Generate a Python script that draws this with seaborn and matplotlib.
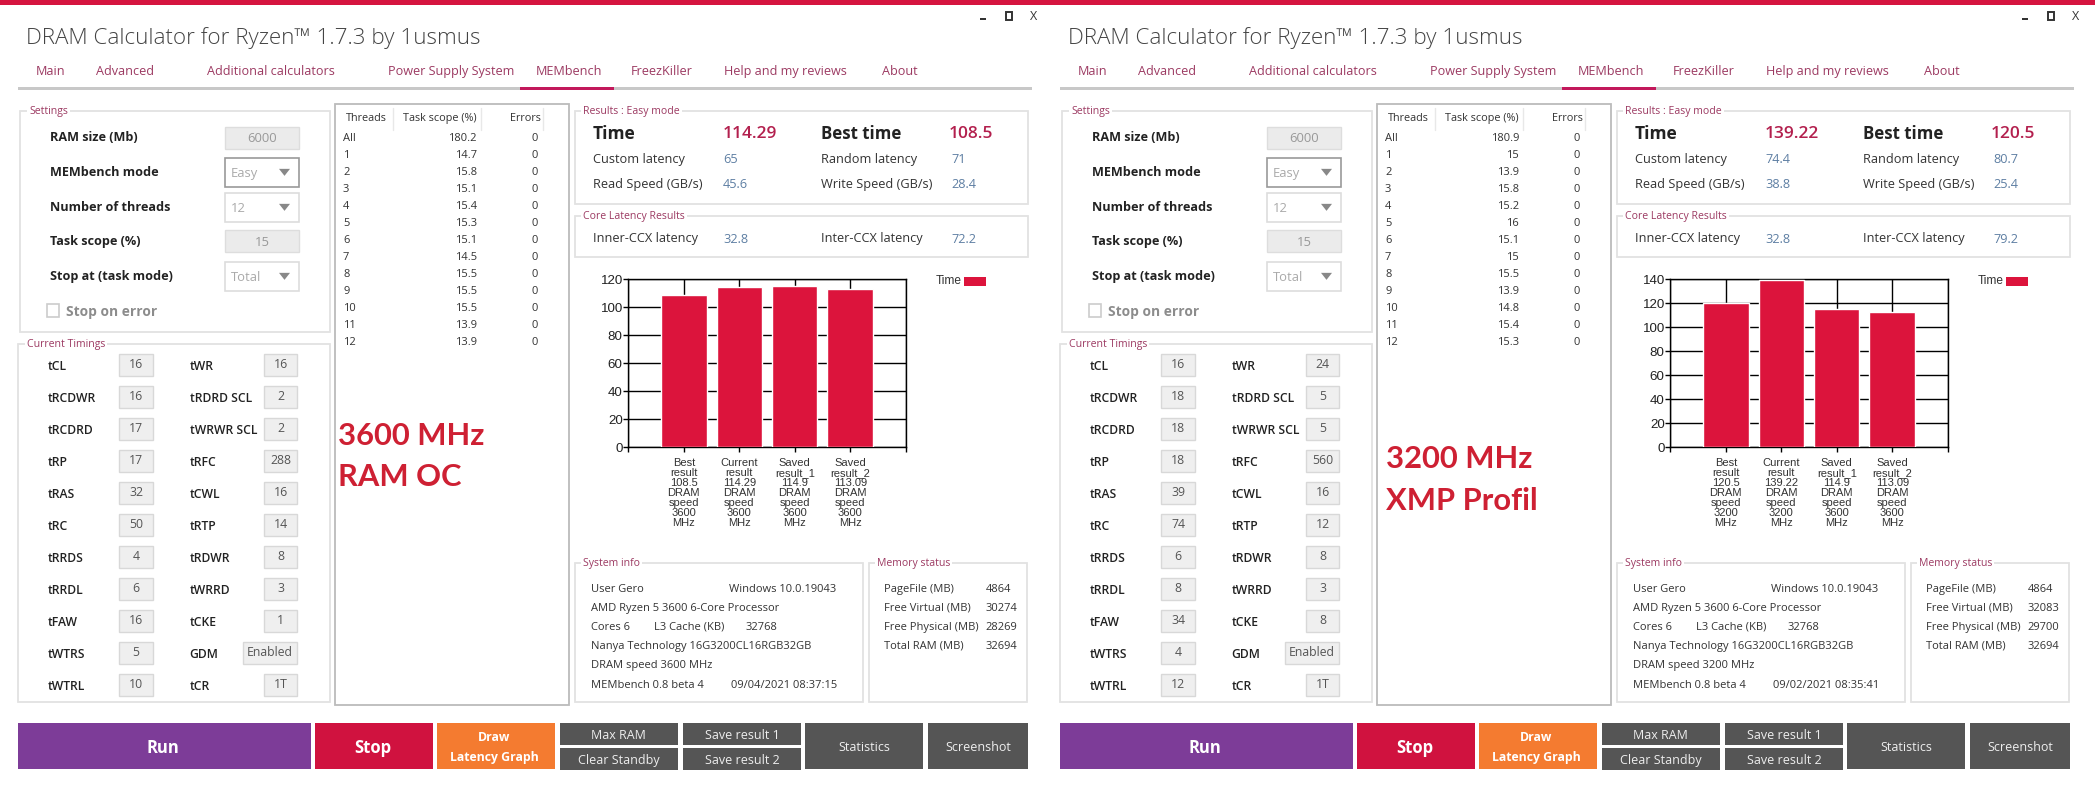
import matplotlib
matplotlib.use("Agg")
import matplotlib.pyplot as plt
from matplotlib.patches import Rectangle, Polygon
import seaborn as sns

W, H = 2095, 791
OFFSET = 1042

# ---------- data ----------
tabs = ["Main", "Advanced", "Additional calculators", "Power Supply System", "MEMbench",
        "FreezKiller", "Help and my reviews", "About"]
result_names = [["Best", "result"], ["Current", "result"], ["Saved", "result_1"], ["Saved", "result_2"]]

threads = ["All", "1", "2", "3", "4", "5", "6", "7", "8", "9", "10", "11", "12"]
scope_a = ["180.2", "14.7", "15.8", "15.1", "15.4", "15.3", "15.1", "14.5", "15.5", "15.5", "15.5", "13.9", "13.9"]
scope_b = ["180.9", "15", "13.9", "15.8", "15.2", "16", "15.1", "15", "15.5", "13.9", "14.8", "15.4", "15.3"]

bars_a = [108.5, 114.29, 114.9, 113.09]
bars_b = [120.5, 139.22, 114.9, 113.09]
speeds_a = [3600, 3600, 3600, 3600]
speeds_b = [3200, 3200, 3600, 3600]
ymax_a = 120
ymax_b = 140

timing_left = ["tCL", "tRCDWR", "tRCDRD", "tRP", "tRAS", "tRC", "tRRDS", "tRRDL", "tFAW", "tWTRS", "tWTRL"]
timing_right = ["tWR", "tRDRD SCL", "tWRWR SCL", "tRFC", "tCWL", "tRTP", "tRDWR", "tWRRD", "tCKE", "GDM", "tCR"]
tl_a = ["16", "16", "17", "17", "32", "50", "4", "6", "16", "5", "10"]
tr_a = ["16", "2", "2", "288", "16", "14", "8", "3", "1", "Enabled", "1T"]
tl_b = ["16", "18", "18", "18", "39", "74", "6", "8", "34", "4", "12"]
tr_b = ["24", "5", "5", "560", "16", "12", "8", "3", "8", "Enabled", "1T"]

results_a = dict(time="114.29", best="108.5", custom="65", rnd="71", read="45.6", write="28.4", inner="32.8", inter="72.2")
results_b = dict(time="139.22", best="120.5", custom="74.4", rnd="80.7", read="38.8", write="25.4", inner="32.8", inter="79.2")
memory_labels = ["PageFile (MB)", "Free Virtual (MB)", "Free Physical (MB)", "Total RAM (MB)"]
memory_a = ["4864", "30274", "28269", "32694"]
memory_b = ["4864", "32083", "29700", "32694"]
dram_a = "DRAM speed 3600 MHz"
dram_b = "DRAM speed 3200 MHz"
date_a = "09/04/2021 08:37:15"
date_b = "09/02/2021 08:35:41"
note_a = ["3600 MHz", "RAM OC"]
note_b = ["3200 MHz", "XMP Profil"]

# ---------- colours / fonts ----------
CRIMSON = "#DC143C"
MAROON = "#9C3A62"
BLUE = "#5E7FA3"
BORDER = "#E2E2E2"
UI = "Open Sans"
sns.set_theme(style="white")
plt.rcParams["font.family"] = [UI, "DejaVu Sans"]

fig = plt.figure(figsize=(W / 100, H / 100), dpi=100, facecolor="white")
bg = fig.add_axes([0, 0, 1, 1])
bg.set_xlim(0, W)
bg.set_ylim(H, 0)
bg.axis("off")


def T(x, y, s, size=9.3, color="#333333", ha="left", weight="normal", **kw):
    bg.text(x, y + 1.2, s, fontsize=size, color=color, ha=ha, va="center", weight=weight, **kw)


def R(x0, y0, x1, y1, fc="none", ec="none", lw=1.0, z=1):
    bg.add_patch(Rectangle((x0, y0), x1 - x0, y1 - y0, facecolor=fc, edgecolor=ec, linewidth=lw, zorder=z))


def group(ox, x0, y0, x1, y1, title, tx):
    R(ox + x0, y0, ox + x1, y1, ec=BORDER, lw=1.3)
    bg.text(ox + tx, y0 + 0.8, title, fontsize=7.6, color=MAROON, va="center", ha="left", zorder=3,
            bbox=dict(facecolor="white", edgecolor="none", pad=1.5))


def chart(ox, values, speeds, ymax):
    ax = fig.add_axes([(ox + 628.3) / W, 1 - 447.3 / H, 277.4 / W, 168 / H])
    names = ["\n".join(n) for n in result_names]
    labels = [f"{n[0]}\n{n[1]}\n{v}\nDRAM\nspeed\n{s}\nMHz" for n, v, s in zip(result_names, values, speeds)]
    sns.barplot(x=names, y=values, color=CRIMSON, saturation=1, width=0.82, ax=ax, zorder=3)
    ax.set_xlim(-1, 4)
    ax.set_ylim(0, ymax)
    ax.set_yticks(range(0, ymax + 1, 20))
    ax.set_xticks(range(-1, 5))
    ax.set_xticklabels([""] + labels + [""], linespacing=1.0)
    ax.grid(True, color="black", lw=1.0, zorder=0)
    ax.set_axisbelow(True)
    ax.tick_params(axis="both", length=3.5, width=1, color="black", left=True, bottom=True)
    ax.tick_params(axis="y", labelsize=9.6, labelcolor="#222222", pad=0.5)
    ax.tick_params(axis="x", labelsize=8.0, labelcolor="#333333", pad=4)
    for lab in ax.get_xticklabels() + ax.get_yticklabels():
        lab.set_fontfamily("Liberation Sans")
    for sp in ax.spines.values():
        sp.set_visible(True)
        sp.set_color("black")
        sp.set_linewidth(1)
    ax.set_xlabel("")
    ax.set_ylabel("")
    ax.patch.set_alpha(0)


def panel(ox, scope, values, speeds, ymax, tl, tr, res, mem, dram, date, note, note_x, note_y):
    # window buttons
    R(ox + 980, 17.5, ox + 986, 19.5, fc="#333333")
    R(ox + 1006, 12, ox + 1012, 19.5, ec="#333333", lw=1.4)
    T(ox + 1033.5, 15, "X", size=9, color="#333333", ha="center")
    # title + tabs
    T(ox + 26.5, 37, "DRAM Calculator for Ryzen™ 1.7.3 by 1usmus", size=16.15, color="#444444", weight="light")
    for x, s in zip([35.5, 96, 207, 388, 536, 631, 724, 881.5], tabs):
        T(ox + x, 70.5, s, size=9.05, color=MAROON)
    R(ox + 18, 87, ox + 1032, 90, fc="#C8C8C8")
    R(ox + 520, 87, ox + 614, 90, fc="#C2185B")

    # settings
    group(ox, 20, 110.7, 329.5, 332, "Settings", 29.5)
    boxes = [(126.7, 148.5, "RAM size (Mb)", "6000", True), (158, 186.7, "MEMbench mode", "Easy", False),
             (193, 221.7, "Number of threads", "12", False), (230, 252.3, "Task scope (%)", "15", True),
             (262, 290.7, "Stop at (task mode)", "Total", False)]
    for y0, y1, lab, val, filled in boxes:
        T(ox + 50, (y0 + y1) / 2 - 1, lab, size=9.1, color="#222222", weight="bold")
        if filled:
            R(ox + 225, y0, ox + 298.7, y1, fc="#EBEBEB", ec="#DDDDDD")
            T(ox + 262, (y0 + y1) / 2, val, size=9.4, color="#999999", ha="center")
        else:
            ec = "#999999" if lab.startswith("MEM") else "#DDDDDD"
            R(ox + 225, y0, ox + 298.7, y1, fc="white", ec=ec, lw=1.2)
            T(ox + 231, (y0 + y1) / 2, val, size=9.4, color="#AAAAAA")
            yc = (y0 + y1) / 2
            bg.add_patch(Polygon([(ox + 279, yc - 3.5), (ox + 290, yc - 3.5), (ox + 284.5, yc + 3.5)], fc="#888888", ec="none"))
    R(ox + 47, 304, ox + 59, 316.7, fc="white", ec="#CCCCCC", lw=1.2)
    T(ox + 65.6, 310.5, "Stop on error", size=9.9, color="#8C8C8C", weight="bold")

    # timings
    group(ox, 18, 344, 329.5, 701.7, "Current Timings", 27)
    for i in range(len(timing_left)):
        y = 366.7 + 32 * i
        T(ox + 48, y - 1, timing_left[i], size=8.7, color="#222222", weight="semibold")
        T(ox + 189.5, y - 1, timing_right[i], size=8.7, color="#222222", weight="semibold")
        R(ox + 119, y - 12.5, ox + 152.7, y + 9, fc="#EFEFEF", ec="#D8D8D8")
        T(ox + 136, y - 3, tl[i], size=8.8, color="#555555", ha="center")
        bx = 243 if tr[i] == "Enabled" else 264
        R(ox + bx, y - 12.5, ox + 297.4, y + 9, fc="#EFEFEF", ec="#D8D8D8")
        T(ox + (bx + 297.4) / 2, y - 3, tr[i], size=8.8, color="#555555", ha="center")

    # thread table
    R(ox + 335, 104.3, ox + 568.6, 705.3, ec="#BBBBBB", lw=1.3)
    T(ox + 346, 117, "Threads", size=7.8)
    T(ox + 403, 117, "Task scope (%)", size=7.8)
    T(ox + 510, 117, "Errors", size=7.8)
    for x in (392.5, 481, 542.5):
        bg.plot([ox + x, ox + x], [108, 130], color="#E8E8E8", lw=1)
    for i, t in enumerate(threads):
        y = 137.7 + 17 * i
        T(ox + 343, y, t, size=8)
        T(ox + 477, y, scope[i], size=8, ha="right")
        T(ox + 538, y, "0", size=8, ha="right")
    for s, y in zip(note, note_y):
        T(note_x, y - 1, s, size=22.2, color="#CE2033", weight="bold", family=["Lato", "Open Sans"])

    # results
    group(ox, 574.6, 110.7, 1028, 204, "Results : Easy mode", 583)
    T(ox + 592.6, 133, "Time", size=12.5, color="#222222", weight="bold")
    T(ox + 723, 133, res["time"], size=12.5, color="#B3204E", weight="semibold")
    T(ox + 821, 133, "Best time", size=12.2, color="#222222", weight="bold")
    T(ox + 949, 133, res["best"], size=12.5, color="#B3204E", weight="semibold")
    rows = [(158.7, "Custom latency", res["custom"], "Random latency", res["rnd"]),
            (183, "Read Speed (GB/s)", res["read"], "Write Speed (GB/s)", res["write"])]
    for y, a, av, b, bv in rows:
        T(ox + 592.6, y, a, size=9.2)
        T(ox + 723, y, av, size=9.2, color=BLUE)
        T(ox + 821, y, b, size=9.2)
        T(ox + 951.6, y, bv, size=9.2, color=BLUE)
    group(ox, 574.6, 215.7, 1028, 257.3, "Core Latency Results", 583)
    T(ox + 592.6, 237, "Inner-CCX latency", size=9.2)
    T(ox + 723, 238, res["inner"], size=9.2, color=BLUE)
    T(ox + 821, 237, "Inter-CCX latency", size=9.2)
    T(ox + 951.6, 238, res["inter"], size=9.2, color=BLUE)

    # chart + legend
    chart(ox, values, speeds, ymax)
    T(ox + 935.6, 280, "Time", size=8.6, color="#333333", family="Liberation Sans")
    R(ox + 964.4, 277, ox + 986, 286, fc=CRIMSON)

    # system info
    group(ox, 574.6, 562.7, 862.7, 702.3, "System info", 583)
    group(ox, 868.7, 562.7, 1026.7, 702.3, "Memory status", 877)
    T(ox + 590.7, 588, "User Gero", size=8)
    T(ox + 728.6, 588, "Windows 10.0.19043", size=8)
    T(ox + 590.7, 607, "AMD Ryzen 5 3600 6-Core Processor", size=8)
    T(ox + 590.7, 626, "Cores 6", size=8)
    T(ox + 654, 626, "L3 Cache (KB)", size=8)
    T(ox + 745.4, 626, "32768", size=8)
    T(ox + 590.7, 645, "Nanya Technology 16G3200CL16RGB32GB", size=8)
    T(ox + 590.7, 664.7, dram, size=8)
    T(ox + 590.7, 684, "MEMbench 0.8 beta 4", size=8)
    T(ox + 731, 684, date, size=8)
    for y, a, b in zip([588, 607, 626, 645], memory_labels, mem):
        T(ox + 884, y, a, size=8)
        T(ox + 985.7, y, b, size=8)

    # buttons
    R(ox + 18, 723, ox + 310.7, 769, fc="#7D3C98")
    T(ox + 163, 747, "Run", size=12, color="white", ha="center", weight="bold")
    R(ox + 314.7, 723, ox + 433, 769, fc="#D0123F")
    T(ox + 373, 747, "Stop", size=12, color="white", ha="center", weight="bold")
    R(ox + 437, 723, ox + 555, 769, fc="#F47B30")
    T(ox + 494, 736, "Draw", size=8.8, color="white", ha="center", weight="bold")
    T(ox + 494, 756, "Latency Graph", size=8.8, color="white", ha="center", weight="bold")
    G = "#555555"
    for x0, x1, y0, y1, s, yt in [(560, 677.7, 723, 745, "Max RAM", 734), (560, 677.7, 748, 770, "Clear Standby", 759),
                                  (683, 801, 723, 745, "Save result 1", 734), (683, 801, 748, 770, "Save result 2", 759),
                                  (805, 923, 723, 769, "Statistics", 746), (928, 1028, 723, 769, "Screenshot", 746)]:
        R(ox + x0, y0, ox + x1, y1, fc=G)
        T(ox + (x0 + x1) / 2, yt, s, size=9, color="#EEEEEE", ha="center")


R(0, 0, W, 5, fc="#D5143F")
panel(0, scope_a, bars_a, speeds_a, ymax_a, tl_a, tr_a, results_a, memory_a, dram_a, date_a, note_a, 337.5, [435.7, 477.3])
panel(OFFSET, scope_b, bars_b, speeds_b, ymax_b, tl_b, tr_b, results_b, memory_b, dram_b, date_b, note_b, 1386, [459.3, 501])

fig.savefig("out.png", dpi=100)
